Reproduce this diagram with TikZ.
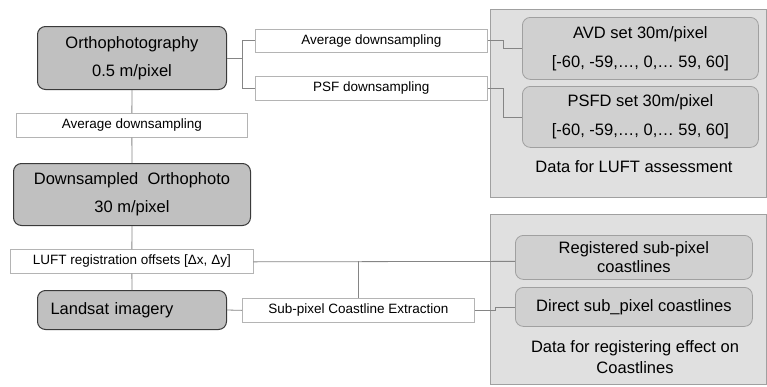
\documentclass[tikz,border=0pt]{standalone}
\usepackage{fontspec}
\setmainfont{Liberation Sans}
\definecolor{bigfill}{HTML}{C0C0C0}
\definecolor{bigdraw}{HTML}{3A3A3A}
\definecolor{setfill}{HTML}{D0D0D0}
\definecolor{setdraw}{HTML}{A0A0A0}
\definecolor{panelfill}{HTML}{E0E0E0}
\definecolor{paneldraw}{HTML}{A0A0A0}
\definecolor{opdraw}{HTML}{B4B4B4}
\definecolor{linkcol}{HTML}{858585}
\tikzset{
  big/.style={draw=bigdraw, fill=bigfill, rounded corners=8pt, line width=1pt, anchor=north west, inner sep=0pt, align=center, font=\fontsize{16.5}{28}\selectfont},
  setbox/.style={draw=setdraw, fill=setfill, rounded corners=8pt, line width=0.8pt, anchor=north west, inner sep=0pt, align=center, font=\fontsize{16.5}{29}\selectfont},
  opbox/.style={draw=opdraw, fill=white, line width=0.7pt, anchor=north west, inner sep=0pt, align=center, font=\fontsize{13.5}{16}\selectfont},
  panel/.style={draw=paneldraw, fill=panelfill, line width=0.8pt},
  link/.style={draw=linkcol, line width=0.8pt},
  caption/.style={align=center, inner sep=0pt, font=\fontsize{16.5}{21}\selectfont}
}
\begin{document}
\begin{tikzpicture}[x=1pt,y=-1pt]
\useasboundingbox (0,0) rectangle (767,386);
% panels
\draw[panel] (490,9) rectangle (766.5,197);
\draw[panel] (490,214) rectangle (766.5,384);
% left column
\node[big, minimum width=189pt, minimum height=63pt] (ortho) at (37,26) {Orthophotography\\0.5 m/pixel};
\node[opbox, minimum width=231pt, minimum height=24pt] (avgl) at (16,113) {Average downsampling};
\node[big, minimum width=237pt, minimum height=62pt] (down) at (13,163) {Downsampled~~Orthophoto\\30 m/pixel};
\node[opbox, minimum width=243pt, minimum height=24pt] (luft) at (10,249) {LUFT registration offsets [Δx, Δy]};
\node[big, minimum width=189pt, minimum height=39pt, text width=163pt, inner xsep=13pt, align=left] (land) at (37,290) {Landsat imagery};
% top operations
\node[opbox, minimum width=232pt, minimum height=23pt] (avgr) at (255,29) {Average downsampling};
\node[opbox, minimum width=232pt, minimum height=24pt] (psf) at (255,76) {PSF downsampling};
\node[setbox, minimum width=236pt, minimum height=62pt] (avd) at (522,17) {AVD set 30m/pixel\\{[-60, -59,\dots, 0,\dots\ 59, 60]}};
\node[setbox, minimum width=236pt, minimum height=61pt] (psfd) at (522,86) {PSFD set 30m/pixel\\{[-60, -59,\dots, 0,\dots\ 59, 60]}};
\node[caption] (cap1) at (634,167) {Data for LUFT assessment};
% bottom operations
\node[opbox, minimum width=232pt, minimum height=24pt] (sub) at (242,298) {Sub-pixel Coastline Extraction};
\node[setbox, minimum width=237pt, minimum height=44pt, font=\fontsize{16.5}{19}\selectfont] (reg) at (515,235) {Registered sub-pixel\\coastlines};
\node[setbox, minimum width=237pt, minimum height=39pt] (direct) at (515,287) {Direct sub\_pixel coastlines};
\node[caption] (cap2) at (635,357) {Data for registering effect on\\Coastlines};
% connectors
\draw[link] (ortho.south) -- (avgl.north);
\draw[link] (avgl.south) -- (down.north);
\draw[link] (down.south) -- (luft.north);
\draw[link] (luft.south) -- (land.north);
\draw[link] (ortho.east) -- ++(15,0) |- (avgr.west);
\draw[link] (ortho.east) -- ++(15,0) |- (psf.west);
\draw[link] (avgr.east) -- ++(16,0) |- (avd.west);
\draw[link] (psf.east) -- ++(16,0) |- (psfd.west);
\draw[link] (land.east) -- (sub.west);
\draw[link] (luft.east) -- ++(0,0.5) -- (luft.east -| reg.west);
\draw[link] (sub.north) -- (sub.north |- luft.east);
\draw[link] (sub.east) -- ++(21,0) |- (direct.west);
\end{tikzpicture}
\end{document}
